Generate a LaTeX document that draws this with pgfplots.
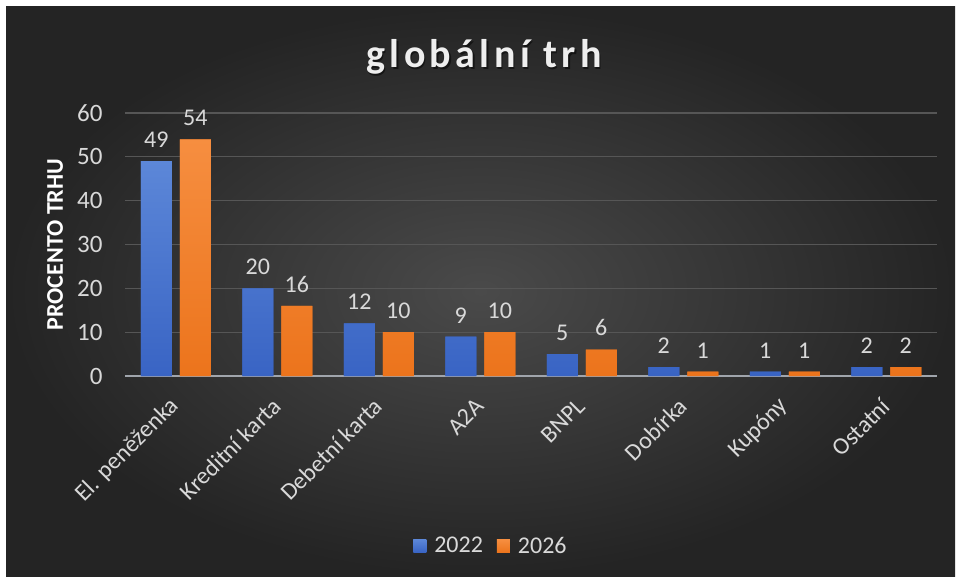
\documentclass[border=0pt]{standalone}
\usepackage{pgfplots}
\pgfplotsset{compat=1.18}
\usepackage{fontspec}
\setmainfont{Carlito}
\newfontfamily\titlefont{Carlito}[LetterSpace=11]

\definecolor{bgin}{RGB}{74,74,74}
\definecolor{bgout}{RGB}{36,36,36}
\definecolor{txt}{RGB}{217,217,217}
\definecolor{titlec}{RGB}{238,238,238}
\definecolor{gridc}{RGB}{86,86,86}
\definecolor{axc}{RGB}{160,165,172}
\definecolor{bluetop}{RGB}{92,135,216}
\definecolor{bluebot}{RGB}{57,100,196}
\definecolor{orgtop}{RGB}{246,142,64}
\definecolor{orgbot}{RGB}{236,116,28}

\pgfplotsset{sq legend/.style={legend image code/.code={%
  \fill[##1] (0pt,-6.5pt) rectangle (13pt,6.5pt); \path (19pt,0pt);}}}

\begin{document}
\begin{tikzpicture}[x=1pt,y=1pt]
\fill[white] (0,0) rectangle (957,579);
\shade[inner color=bgin, outer color=bgout] (6,3) rectangle (955,572);
% title with a soft shadow
\node[anchor=base, text=black, opacity=0.5, font=\titlefont\bfseries\fontsize{40}{46}\selectfont] at (485.5,509.5) {globální trh};
\node[anchor=base, text=titlec, font=\titlefont\bfseries\fontsize{40}{46}\selectfont] at (484,511) {globální trh};
\begin{axis}[
  at={(125pt,203pt)}, anchor=south west,
  scale only axis, width=812pt, height=263pt,
  ybar=8pt, bar width=31pt,
  xmin=-0.5, xmax=7.5, ymin=0, ymax=60,
  axis x line*=bottom, axis y line*=left,
  x axis line style={draw=axc, line width=1.8pt, -},
  y axis line style={draw=none},
  major tick length=0pt,
  xtick={0,...,7},
  xticklabels={El. peněženka, Kreditní karta, Debetní karta, A2A, BNPL, Dobírka, Kupóny, Ostatní},
  ytick={0,10,...,60},
  ymajorgrids=true,
  major grid style={draw=gridc, line width=1.3pt},
  /pgf/number format/assume math mode=true,
  yticklabel style={font=\fontsize{25}{29}\selectfont, text=txt, xshift=-19pt},
  xticklabel style={font=\fontsize{24}{28}\selectfont, text=txt, xshift=2pt, yshift=-24pt, rotate=45, anchor=east},
  ylabel={PROCENTO TRHU},
  every axis y label/.style={at={(axis description cs:-0.0862,0.5)}, rotate=90, anchor=center,
    font=\bfseries\fontsize{24}{28}\selectfont, text=white},
  legend style={at={(axis description cs:0.4507,-0.646)}, anchor=center, draw=none, fill=none,
    legend columns=2, font=\fontsize{24}{28}\selectfont, text=txt,
    /tikz/every even column/.append style={column sep=12pt}},
  every node near coord/.append style={font=\fontsize{24}{28}\selectfont, text=txt, yshift=10pt},
  nodes near coords,
]
\addplot[draw=none, fill=bluebot, top color=bluetop, bottom color=bluebot, sq legend]
  coordinates {(0,49) (1,20) (2,12) (3,9) (4,5) (5,2) (6,1) (7,2)};
\addlegendentry{2022}
\addplot[draw=none, fill=orgbot, top color=orgtop, bottom color=orgbot, sq legend]
  coordinates {(0,54) (1,16) (2,10) (3,10) (4,6) (5,1) (6,1) (7,2)};
\addlegendentry{2026}
\end{axis}
\end{tikzpicture}
\end{document}
